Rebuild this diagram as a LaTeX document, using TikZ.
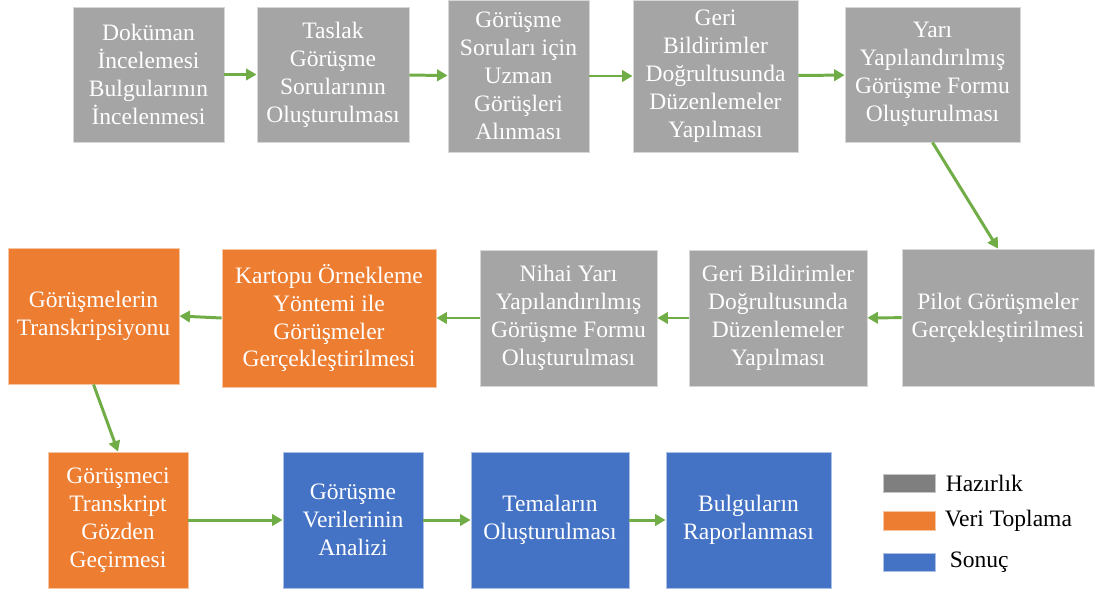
\documentclass[tikz,border=0pt]{standalone}
\usepackage{fontspec}
\setmainfont{Liberation Serif}
\usetikzlibrary{arrows.meta,positioning}
\definecolor{hzr}{HTML}{A5A5A5}
\definecolor{hzrkoyu}{HTML}{7F7F7F}
\definecolor{vrt}{HTML}{ED7D31}
\definecolor{snc}{HTML}{4472C4}
\definecolor{akis}{HTML}{70AD47}
\tikzset{
	stage/.style={draw=#1!45!white, fill=#1, line width=0.5pt, text=white, align=center, inner sep=2pt},
	flow/.style={draw=akis, line width=1.7pt, -{Triangle[length=6pt,width=6.5pt]}},
	swatch/.style={draw=#1!45!white, fill=#1, line width=0.5pt, minimum width=1.04cm, minimum height=0.37cm, inner sep=0pt},
	lgtext/.style={inner sep=0pt, text=black}
}
\begin{document}
\begin{tikzpicture}[x=0.02cm,y=-0.02cm]
		\fontsize{13.4}{15.9}\selectfont
		\useasboundingbox (0,0) rectangle (1095,592);

		\node[stage=hzr,minimum width=3.02cm,minimum height=2.7cm] (dok) at (148.5,74.5) {Doküman\\İncelemesi\\Bulgularının\\İncelenmesi};
		\node[stage=hzr,minimum width=3.04cm,minimum height=2.7cm] (tsl) at (333,74.5) {Taslak\\Görüşme\\Sorularının\\Oluşturulması};
		\node[stage=hzr,minimum width=2.82cm,minimum height=3.04cm] (uzm) at (518.5,76) {Görüşme\\Soruları için\\Uzman\\Görüşleri\\Alınması};
		\node[stage=hzr,minimum width=3.3cm,minimum height=3.04cm] (dzn) at (715.5,76) {Geri\\Bildirimler\\Doğrultusunda\\Düzenlemeler\\Yapılması};
		\node[stage=hzr,minimum width=3.5cm,minimum height=2.7cm] (frm) at (932.5,74.5) {Yarı\\Yapılandırılmış\\Görüşme Formu\\Oluşturulması};
		\draw[flow] (dok) -- (tsl);
		\draw[flow] (tsl) -- (uzm);
		\draw[flow] (uzm) -- (dzn);
		\draw[flow] (dzn) -- (frm);

		\node[stage=hzr,minimum width=3.84cm,minimum height=2.74cm] (plt) at (998,317.5) {Pilot Görüşmeler\\Gerçekleştirilmesi};
		\node[stage=hzr,minimum width=3.56cm,minimum height=2.72cm] (gbd) at (778,318) {Geri Bildirimler\\Doğrultusunda\\Düzenlemeler\\Yapılması};
		\node[stage=hzr,minimum width=3.54cm,minimum height=2.72cm] (nhy) at (568.5,318) {Nihai Yarı\\Yapılandırılmış\\Görüşme Formu\\Oluşturulması};
		\node[stage=vrt,minimum width=4.28cm,minimum height=2.76cm] (krt) at (329,318) {Kartopu Örnekleme\\Yöntemi ile\\Görüşmeler\\Gerçekleştirilmesi};
		\node[stage=vrt,minimum width=3.42cm,minimum height=2.72cm] (trn) at (93.5,316) {Görüşmelerin\\Transkripsiyonu};
		\draw[flow] (frm.south) -- (plt.north);
		\draw[flow] (plt) -- (gbd);
		\draw[flow] (gbd) -- (nhy);
		\draw[flow] (nhy) -- (krt);
		\draw[flow] (krt.west) -- (trn.east);

		\node[stage=vrt,minimum width=2.8cm,minimum height=2.72cm] (gzd) at (118,520) {Görüşmeci\\Transkript\\Gözden\\Geçirmesi};
		\node[stage=snc,minimum width=2.8cm,minimum height=2.72cm] (anl) at (353,520) {Görüşme\\Verilerinin\\Analizi};
		\node[stage=snc,minimum width=3.16cm,minimum height=2.72cm] (tma) at (550,520) {Temaların\\Oluşturulması};
		\node[stage=snc,minimum width=3.3cm,minimum height=2.72cm] (rpr) at (748.5,520) {Bulguların\\Raporlanması};
		\draw[flow] (trn.south) -- (gzd.north);
		\draw[flow] (gzd) -- (anl);
		\draw[flow] (anl) -- (tma);
		\draw[flow] (tma) -- (rpr);

		\node[swatch=hzrkoyu] (lhz) at (909,483.5) {};
		\node[lgtext,right=0.2cm of lhz] {Hazırlık};
		\node[swatch=vrt] (lvt) at (909,521) {};
		\node[lgtext,right=0.18cm of lvt] {Veri Toplama};
		\node[swatch=snc] (lsn) at (909,562.5) {};
		\node[lgtext,right=0.28cm of lsn] {Sonuç};
	\end{tikzpicture}
\end{document}
